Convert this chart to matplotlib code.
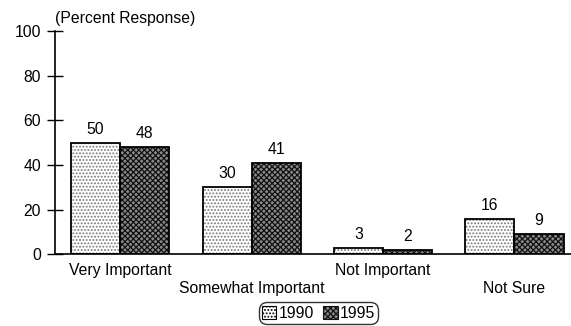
import numpy as np
from matplotlib import pyplot as plt
from matplotlib.patches import Patch

categories = ['Very Important', 'Somewhat Important', 'Not Important', 'Not Sure']
values_1990 = [50, 30, 3, 16]
values_1995 = [48, 41, 2, 9]
series_labels = ['1990', '1995']
y_ticks = [0, 20, 40, 60, 80, 100]

plt.rcParams['font.family'] = ['Liberation Sans', 'DejaVu Sans']
plt.rcParams['font.size'] = 11.3
plt.rcParams['hatch.linewidth'] = 0.9

fig = plt.figure(figsize=(5.71, 3.26), dpi=100)
ax = fig.add_axes([0.0956, 0.2196, 1 - 0.0956, 0.685])

x = np.arange(len(categories))
width = 0.373

# fill patterns first, outlines on top
style_1990 = dict(facecolor='white', hatch='.....', edgecolor='#777777')
style_1995 = dict(facecolor='#8a8a8a', hatch='xxxxxx', edgecolor='#111111')
ax.bar(x - width / 2, values_1990, width, linewidth=0, **style_1990)
ax.bar(x + width / 2, values_1995, width, linewidth=0, **style_1995)
ax.bar(x - width / 2, values_1990, width, fill=False, edgecolor='black', linewidth=1.3)
ax.bar(x + width / 2, values_1995, width, fill=False, edgecolor='black', linewidth=1.3)

for xs, vals in ((x - width / 2, values_1990), (x + width / 2, values_1995)):
    for xi, v in zip(xs, vals):
        ax.annotate(str(v), (xi, v), xytext=(0, 9.7), textcoords='offset points',
                    ha='center', va='center')

# category names on two staggered rows
for i, name in enumerate(categories):
    offset = -11.7 if i % 2 == 0 else -24.2
    ax.annotate(name, (x[i], 0), xytext=(0, offset), textcoords='offset points',
                ha='center', va='center', annotation_clip=False)

ax.set_xlim(-0.499, 3.43)
ax.set_ylim(0, 100)
ax.set_yticks(y_ticks)
ax.set_xticks([])
ax.tick_params(axis='y', direction='inout', length=11.5, width=1.0, pad=4)
for side in ('top', 'right'):
    ax.spines[side].set_visible(False)
ax.spines['left'].set_linewidth(1.2)
ax.spines['bottom'].set_linewidth(1.2)
ax.patch.set_visible(False)

fig.text(0.0956, 1 - 18 / 326, '(Percent Response)', ha='left', va='center')

handles = [Patch(label=series_labels[0], linewidth=0.8, **{**style_1990, 'edgecolor': 'black'}),
           Patch(label=series_labels[1], linewidth=0.8, **style_1995)]
leg = fig.legend(handles=handles, loc='center', bbox_to_anchor=(0.558, 13 / 326), ncol=2,
                 handlelength=0.9, handleheight=0.9, handletextpad=0.15, columnspacing=0.6,
                 borderpad=0.2, borderaxespad=0, frameon=True, fancybox=True)
leg.get_frame().set_edgecolor('black')
leg.get_frame().set_linewidth(1.0)
leg.get_frame().set_boxstyle('round', pad=0.0, rounding_size=0.5)

fig.savefig('out.png', dpi=100)
